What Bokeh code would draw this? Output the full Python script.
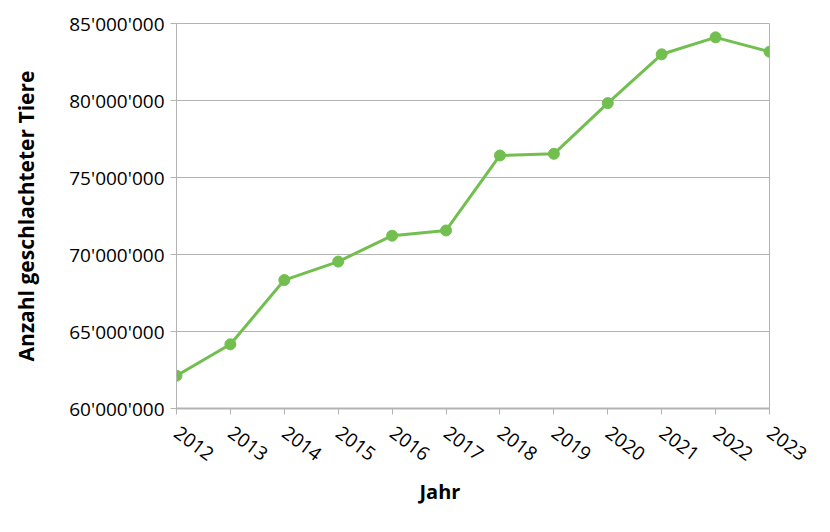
from bokeh.plotting import figure
from bokeh.models import FixedTicker, CustomJSTickFormatter, Range1d, Title
from bokeh.embed import file_html
from bokeh.resources import INLINE

years = [2012, 2013, 2014, 2015, 2016, 2017, 2018, 2019, 2020, 2021, 2022, 2023]
tiere = [62130000, 64170000, 68340000, 69540000, 71220000, 71560000,
         76430000, 76540000, 79830000, 83000000, 84100000, 83170000]
y_ticks = [60000000, 65000000, 70000000, 75000000, 80000000, 85000000]

FONT = "Open Sans"
GREEN = "#72bf50"
GRAY = "#b3b3b3"

p = figure(width=814, height=516, output_backend="svg", toolbar_location=None,
           x_range=Range1d(2012, 2023), y_range=Range1d(60000000, 85000000),
           min_border_left=176, min_border_right=45, min_border_top=23, min_border_bottom=108)

p.line(years, tiere, line_color=GREEN, line_width=3)
p.scatter(years, tiere, size=11, fill_color=GREEN, line_color=GREEN)

p.outline_line_color = GRAY
p.xgrid.grid_line_color = None
p.ygrid.grid_line_color = GRAY
p.ygrid.grid_line_width = 1

p.yaxis.ticker = FixedTicker(ticks=y_ticks)
p.yaxis.formatter = CustomJSTickFormatter(code="""
return Math.round(tick).toString().replace(/\\B(?=(\\d{3})+(?!\\d))/g, "'");
""")
p.xaxis.ticker = FixedTicker(ticks=years)
p.xaxis.major_label_orientation = -0.64

for ax in (p.xaxis[0], p.yaxis[0]):
    ax.axis_line_color = GRAY
    ax.major_tick_line_color = GRAY
    ax.major_tick_in = 0
    ax.major_tick_out = 6
    ax.minor_tick_line_color = None
    ax.major_label_text_font = FONT
    ax.major_label_text_font_size = "19px"
    ax.major_label_text_color = "#000000"
    ax.axis_label_text_font = FONT
    ax.axis_label_text_font_style = "bold"
    ax.axis_label_text_color = "#000000"

p.xaxis.axis_line_width = 2
p.yaxis.axis_label = "Anzahl geschlachteter Tiere"
p.yaxis.axis_label_text_font_size = "21px"
p.yaxis.axis_label_standoff = 26
p.yaxis.major_label_standoff = 6
p.xaxis.major_label_standoff = 16

t = Title(text="Jahr", align="left", offset=243, text_font=FONT, text_font_style="bold",
          text_font_size="20px", text_color="#000000", standoff=12)
p.add_layout(t, "below")

open("out.html", "w").write(file_html(p, INLINE))
